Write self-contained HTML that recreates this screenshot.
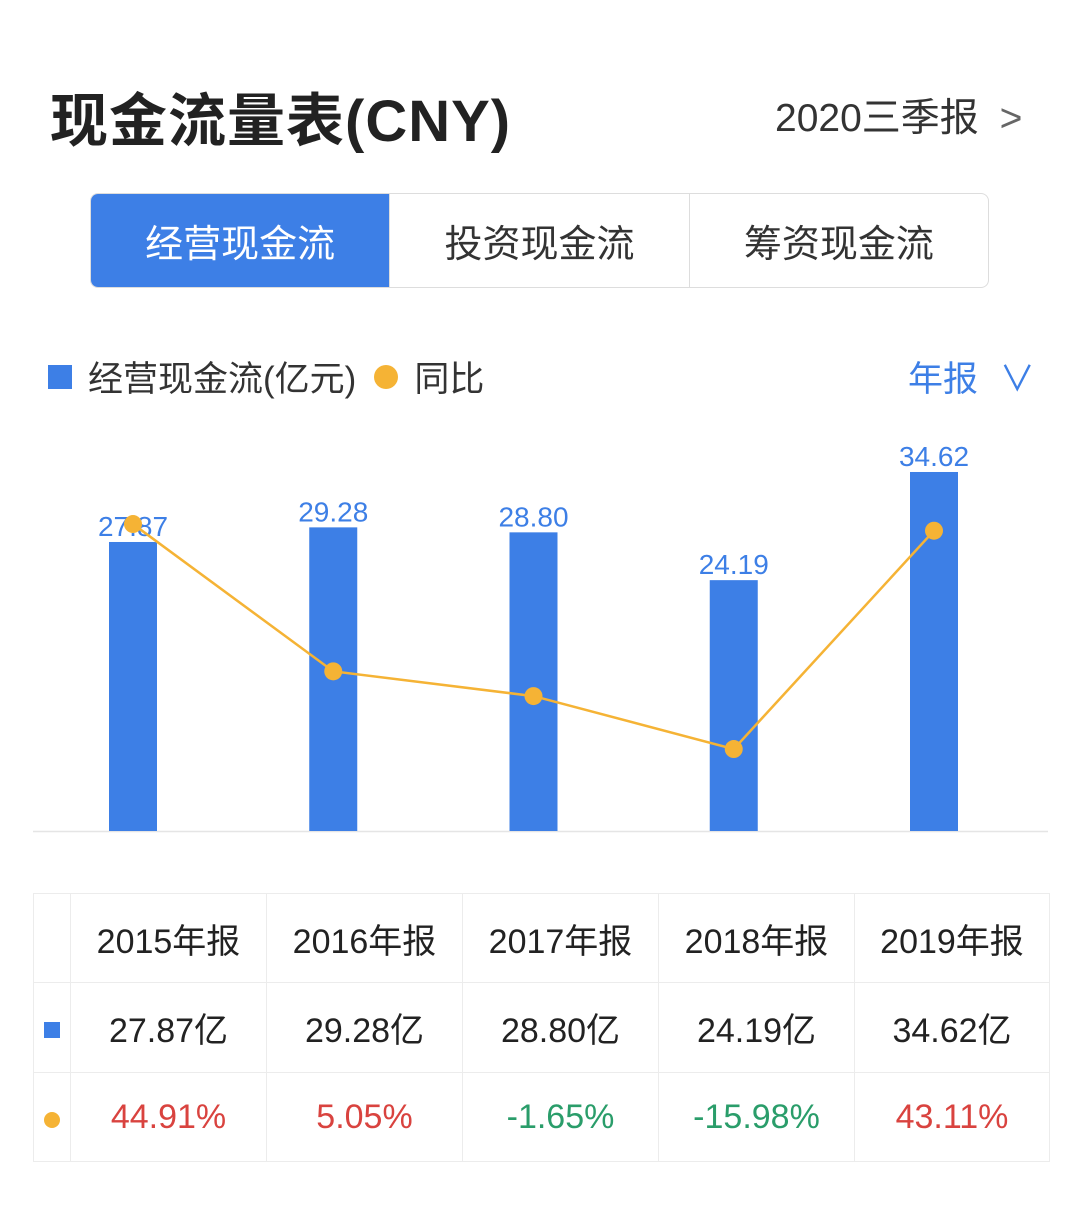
<!DOCTYPE html>
<html><head><meta charset="utf-8"><style>
body{margin:0;width:1080px;height:1212px;background:#fff;font-family:"Liberation Sans","Noto Sans CJK SC",sans-serif;position:relative;overflow:hidden}
.a{position:absolute}
table{border-collapse:collapse;position:absolute;left:33px;top:893px}
td{border:1.5px solid #ececec;text-align:center;font-size:34px;color:#222;padding:0}
</style></head><body>
<div class="a" style="left:50px;top:74px;font-size:58px;font-weight:bold;color:#222;letter-spacing:1px">现金流量表(CNY)</div>
<div class="a" style="left:775px;top:87px;font-size:39px;color:#333">2020三季报 <span style="color:#666;margin-left:10px">&gt;</span></div>
<div class="a" style="left:90px;top:193px;width:897px;height:93px;border:1.5px solid #ddd;border-radius:8px;display:flex;overflow:hidden;font-size:38px">
<div style="width:299px;background:#3d7fe6;color:#fff;display:flex;align-items:center;justify-content:center">经营现金流</div>
<div style="width:299px;border-left:1.5px solid #ddd;color:#333;display:flex;align-items:center;justify-content:center">投资现金流</div>
<div style="width:299px;border-left:1.5px solid #ddd;color:#333;display:flex;align-items:center;justify-content:center">筹资现金流</div>
</div>
<div class="a" style="left:48px;top:351px;font-size:35px;color:#333;display:flex;align-items:center">
<span style="width:24px;height:24px;background:#3d7fe6;display:inline-block;margin-right:16px"></span>经营现金流(亿元)
<span style="width:24px;height:24px;background:#f5b335;border-radius:50%;display:inline-block;margin:0 16px 0 18px"></span>同比</div>
<div class="a" style="left:908px;top:351px;font-size:35px;color:#3d7fe6">年报 <span style="margin-left:12px">∨</span></div>
<svg class="a" id="chart" style="left:0;top:0" width="1080" height="880"></svg>
<table>
<tr style="height:89px"><td style="width:36px"></td><td style="width:195px">2015年报</td><td style="width:195px">2016年报</td><td style="width:195px">2017年报</td><td style="width:195px">2018年报</td><td style="width:194px">2019年报</td></tr>
<tr style="height:90px"><td><span style="display:inline-block;width:16px;height:16px;background:#3d7fe6"></span></td><td>27.87亿</td><td>29.28亿</td><td>28.80亿</td><td>24.19亿</td><td>34.62亿</td></tr>
<tr style="height:89px"><td><span style="display:inline-block;width:16px;height:16px;border-radius:50%;background:#f5b335"></span></td><td style="color:#d9433f">44.91%</td><td style="color:#d9433f">5.05%</td><td style="color:#2a9d6a">-1.65%</td><td style="color:#2a9d6a">-15.98%</td><td style="color:#d9433f">43.11%</td></tr>
</table>
<script>
const categories=["2015年报","2016年报","2017年报","2018年报","2019年报"];
const cashFlow=[27.87,29.28,28.80,24.19,34.62];
const yoy=[44.91,5.05,-1.65,-15.98,43.11];
const svg=document.getElementById('chart');const NS='http://www.w3.org/2000/svg';
const xPos=i=>133+i*200.25;
const yBar=v=>831-v*10.37;
const yLine=v=>690-v*3.695;
function mk(t,a){const e=document.createElementNS(NS,t);for(const k in a)e.setAttribute(k,a[k]);svg.appendChild(e);return e;}
const ax=mk('line',{x1:33,x2:1048,y1:831.5,y2:831.5,stroke:'#e5e5e5','stroke-width':1.5});


cashFlow.forEach((v,i)=>{
const r=mk('rect',{x:xPos(i)-24,y:yBar(v),width:48,height:831-yBar(v),fill:'#3d7fe6'});


const t=mk('text',{x:xPos(i),y:yBar(v)-6,'text-anchor':'middle','font-size':28,fill:'#3d7fe6','font-family':'Liberation Sans, sans-serif'});
t.textContent=v.toFixed(2);


});
const pl=mk('polyline',{points:yoy.map((v,i)=>xPos(i)+','+yLine(v)).join(' '),fill:'none',stroke:'#f5b335','stroke-width':2.5});


yoy.forEach((v,i)=>{
const c=mk('circle',{cx:xPos(i),cy:yLine(v),r:9,fill:'#f5b335'});


});
</script>
</body></html>
